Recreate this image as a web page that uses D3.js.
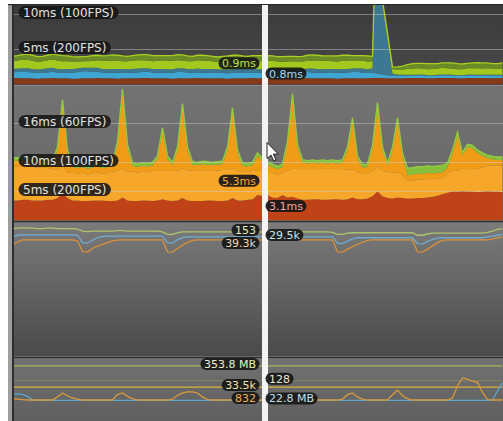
<!DOCTYPE html>
<html>
<head>
<meta charset="utf-8">
<script src="https://cdn.jsdelivr.net/npm/d3@7"></script>
<style>
body { margin: 0; background: #ffffff; }
svg { display: block; }
text { font-family: "DejaVu Sans", Verdana, sans-serif; }
</style>
</head>
<body>
<script>
var frameCount = 99;
var selectedFrame = 50;

// GPU panel, ms per layer (bottom to top)
var gpuBrown = [0.9,0.9,0.85,0.85,0.85,0.8,0.85,0.85,0.9,0.85,
    0.85,0.85,0.8,0.8,0.85,0.85,0.85,0.9,0.85,0.85,
    0.85,0.8,0.85,0.85,0.85,0.85,0.9,0.9,0.85,0.85,
    0.85,0.85,0.8,0.85,0.85,0.85,0.85,0.9,0.85,0.85,
    0.85,0.85,0.85,0.8,0.85,0.85,0.85,0.85,0.9,0.85,
    0.85,0.85,0.85,0.85,0.8,0.8,0.85,0.85,0.85,0.9,
    0.85,0.85,0.85,0.85,0.85,0.8,0.85,0.85,0.85,0.85,
    0.85,0.85,0.9,0.9,0.9,0.85,0.85,0.85,0.85,0.9,
    0.9,0.9,0.9,0.85,0.85,0.9,0.9,0.9,0.9,0.85,
    0.85,0.9,0.9,0.9,0.9,0.9,0.85,0.9,0.9];
var gpuBlue = [0.8,0.85,0.9,0.9,0.85,0.8,0.8,0.85,0.9,0.85,
    0.8,0.8,0.85,0.95,1.0,1.0,0.95,0.9,0.85,0.8,
    0.8,0.85,0.85,0.8,0.8,0.85,0.9,0.9,0.85,0.8,
    0.8,0.8,0.85,0.9,0.9,0.85,0.8,0.8,0.8,0.85,
    0.85,0.8,0.75,0.75,0.8,0.85,0.85,0.8,0.8,0.8,
    0.8,0.85,0.9,0.9,0.85,0.8,0.75,0.75,0.8,0.85,
    0.85,0.8,0.8,0.85,0.85,0.8,0.8,0.85,0.9,0.9,
    0.85,0.8,0.8,0.6,0.5,0.45,0.4,0.4,0.4,0.35,
    0.35,0.4,0.4,0.35,0.35,0.35,0.4,0.4,0.35,0.35,
    0.35,0.4,0.4,0.35,0.35,0.4,0.4,0.35,0.35];
var gpuTeal = [0.5,0.5,0.55,0.55,0.5,0.5,0.55,0.6,0.55,0.5,
    0.5,0.55,0.55,0.5,0.5,0.5,0.55,0.55,0.5,0.5,
    0.55,0.55,0.5,0.5,0.55,0.55,0.5,0.5,0.5,0.55,
    0.55,0.5,0.5,0.55,0.55,0.5,0.5,0.55,0.55,0.5,
    0.5,0.5,0.55,0.55,0.5,0.5,0.5,0.55,0.55,0.5,
    0.5,0.55,0.55,0.5,0.5,0.55,0.55,0.5,0.5,0.5,
    0.55,0.55,0.5,0.5,0.5,0.55,0.55,0.5,0.5,0.55,
    0.55,0.5,0.6,28,9.8,5.2,0.3,0.15,0.1,0.1,
    0.1,0.1,0.1,0.1,0.1,0.1,0.1,0.1,0.1,0.1,
    0.1,0.1,0.1,0.1,0.1,0.1,0.1,0.1,0.1];
var gpuLime = [1.1,1.15,1.2,1.2,1.15,1.1,1.1,1.15,1.2,1.2,
    1.15,1.1,1.05,1.0,0.95,0.95,1.0,1.1,1.15,1.2,
    1.2,1.15,1.1,1.15,1.2,1.2,1.15,1.1,1.1,1.15,
    1.2,1.25,1.2,1.15,1.1,1.1,1.15,1.2,1.2,1.15,
    1.1,1.05,1.1,1.15,1.2,1.2,1.15,1.1,1.1,1.15,
    1.15,1.1,1.05,1.0,1.05,1.1,1.15,1.15,1.1,1.1,
    1.15,1.2,1.2,1.15,1.1,1.1,1.15,1.2,1.15,1.1,
    1.1,1.1,1.0,0.4,0.4,0.4,0.6,0.7,0.75,0.85,
    0.9,0.9,0.85,0.85,0.9,0.9,0.95,0.9,0.9,0.85,
    0.85,0.9,0.9,0.95,0.9,0.9,0.9,0.85,0.9];
var gpuOlive = [0.7,0.7,0.75,0.8,0.8,0.75,0.7,0.7,0.75,0.8,
    0.8,0.75,0.7,0.65,0.65,0.7,0.75,0.7,0.7,0.75,
    0.8,0.8,0.75,0.7,0.7,0.75,0.8,0.85,0.8,0.75,
    0.7,0.7,0.75,0.8,0.8,0.75,0.7,0.7,0.75,0.75,
    0.7,0.7,0.75,0.8,0.8,0.75,0.7,0.7,0.75,0.8,
    0.8,0.75,0.7,0.7,0.75,0.75,0.7,0.7,0.75,0.8,
    0.8,0.75,0.7,0.7,0.75,0.8,0.8,0.75,0.7,0.7,
    0.75,0.8,0.7,0.4,0.4,0.4,0.3,0.4,0.5,0.6,
    0.7,0.7,0.75,0.8,0.75,0.7,0.7,0.75,0.8,0.8,
    0.75,0.7,0.75,0.8,0.8,0.75,0.7,0.75,0.8];
var gpuGridMs = [10, 5];
var gpuGridLabels = ["10ms (100FPS)", "5ms (200FPS)"];

// CPU panel, ms per layer (bottom to top)
var cpuRed = [3.4,3.4,3.5,3.5,3.4,3.4,3.4,3.5,3.5,3.8,
    4.6,3.8,3.4,3.4,3.3,3.3,3.4,3.4,3.4,3.3,
    3.3,3.4,3.9,3.4,3.3,3.3,3.4,3.4,3.3,3.4,
    3.6,3.4,3.3,3.4,3.8,3.4,3.3,3.3,3.3,3.4,
    3.4,3.3,3.3,3.4,3.8,3.4,3.4,3.5,3.6,4.3,
    4.2,4.3,3.9,3.8,4.3,3.9,4.0,3.7,3.5,3.5,
    3.6,3.6,3.5,3.5,3.6,3.6,3.5,3.6,3.9,3.6,
    3.6,3.7,4.1,4.9,4.1,3.8,3.7,3.9,3.8,3.7,
    3.7,3.8,3.8,3.9,4.0,4.2,4.5,4.7,4.9,4.9,
    5.0,4.9,4.9,4.8,4.9,5.0,4.9,4.9,4.8];
var cpuOrange = [5.7,5.8,5.8,5.7,5.7,5.6,5.7,5.4,5.2,4.9,
    4.9,4.3,4.7,4.5,4.8,4.5,4.6,4.8,4.5,4.8,
    5.0,5.0,5.0,4.9,5.0,4.8,4.9,4.8,5.1,5.0,
    5.0,5.0,5.1,5.1,5.1,5.1,5.2,5.1,5.3,5.1,
    5.0,5.2,5.3,5.2,5.1,5.0,4.9,4.7,4.8,4.2,
    4.4,4.2,4.2,3.9,3.8,4.5,4.8,5.0,5.3,5.2,
    5.2,5.1,5.3,5.2,5.2,5.1,5.3,5.0,4.8,4.6,
    4.4,4.4,4.3,4.3,4.3,4.5,4.4,4.2,4.0,3.0,
    3.1,3.2,3.1,3.2,3.0,2.9,2.7,3.3,3.5,3.6,
    3.8,3.8,3.8,4.0,4.1,4.3,4.5,4.4,4.5];
var cpuDark = [1,1,1,1,1,1,1,1,1,3.3,
    10.6,3.4,1,1,1,1,1,1,1,1,
    1,4.6,13.0,4.2,1,1,1,1,1,2.1,
    6.7,2.1,1,3.5,10.5,3.5,1,1,1,1,
    1,1,1,3.4,9.8,3.1,1,1,1,2.5,
    1.5,1,1,1,1,4.6,12.3,3.8,1,1,
    1,1,1,1,1,1,1,3.4,8.3,2.3,
    1,1,3.9,10.4,3.6,1,3.9,8.9,3.2,1,
    1,1,1,1,1,1,1,1,3.1,6.0,
    2.2,3.8,3.6,2.7,2.0,1.3,1,1,1];
var cpuGreen = [0.5,0.5,0.5,0.5,0.5,0.5,0.5,0.5,0.5,0.5,
    0.5,0.5,0.5,0.5,0.5,0.5,0.5,0.5,0.5,0.5,
    0.5,0.5,0.5,0.5,0.5,0.5,0.5,0.5,0.5,0.5,
    0.5,0.5,0.5,0.5,0.5,0.5,0.5,0.5,0.5,0.5,
    0.5,0.5,0.5,0.5,0.5,0.5,0.5,0.5,0.5,0.5,
    0.5,0.5,0.5,0.5,0.5,0.5,0.5,0.5,0.5,0.5,
    0.5,0.5,0.5,0.5,0.5,0.5,0.5,0.5,0.5,0.5,
    0.5,0.5,0.5,0.5,0.5,0.5,0.5,0.5,0.5,1.2,
    1.2,1.2,1.2,1.2,1.2,1.2,1.2,0.8,0.5,0.5,
    0.5,0.5,0.5,0.5,0.5,0.5,0.5,0.5,0.5];
var cpuGridMs = [16.67, 10, 5];
var cpuGridLabels = ["16ms (60FPS)", "10ms (100FPS)", "5ms (200FPS)"];

// Rendering panel
var batches = [155,155.5,156,156,155.5,155,155,155.5,155.5,155,
    155,155,155,154.5,152,151.5,152,152,152,152,
    152,152.5,152.5,152,152,152,152,152,152,152,
    151,148,148,150,151,151,151,151,151,151,
    151,151,151,151,151,151,151,151,151,151,
    151,151,151,151,151,151,151,151,151,151,
    151,151,151,151,150.5,148,148,149.5,150,150,
    150,150,150,150,150,150,150,150,150,150,
    150,147,147,148.5,149.5,149.5,149.5,149.5,149.5,149.5,
    149.5,149.5,149.5,149.5,149.5,150.5,152,154,155];
var trisK = [29.2,29.4,29.5,29.5,29.5,29.5,29.5,29.5,29.5,29.5,
    29.5,29.5,29.5,29.4,27.6,27.5,28.2,28.8,29.1,29.2,
    29.2,29.2,29.2,29.2,29.2,29.2,29.2,29.2,29.2,29.2,
    29.2,27.6,27.5,28.3,28.8,29.0,29.0,29.0,29.0,29.0,
    29.0,29.0,29.0,29.0,29.0,29.0,29.0,29.0,29.0,29.0,
    29.0,29.0,29.0,29.0,29.0,29.0,29.0,29.0,29.0,29.0,
    29.0,29.0,29.0,29.0,29.0,27.5,27.4,28.0,28.5,28.8,
    28.8,28.8,28.8,28.8,28.8,28.8,28.8,28.8,28.8,28.8,
    28.8,27.4,27.3,27.9,28.4,28.7,28.8,28.8,28.8,28.8,
    28.8,28.8,28.8,28.8,28.8,29.0,29.2,29.4,29.6];
var vertsK = [37.6,38.6,39.3,39.3,39.3,39.3,39.3,39.3,39.3,39.3,
    39.3,39.3,39.3,39.0,35.4,35.2,36.5,37.2,37.8,38.4,
    39.0,39.2,39.3,39.3,39.3,39.3,39.3,39.3,39.3,39.3,
    39.3,35.3,35.2,36.4,37.5,38.5,39.1,39.3,39.3,39.3,
    39.3,39.3,39.3,39.3,39.3,39.3,39.3,39.3,39.3,39.3,
    39.3,39.3,39.3,39.3,39.3,39.3,39.3,39.3,39.3,39.3,
    39.3,39.3,39.3,39.3,39.3,35.3,35.2,36.2,37.0,37.8,
    38.5,39.1,39.3,39.3,39.3,39.3,39.3,39.3,39.3,39.3,
    39.3,35.3,35.2,36.2,37.3,38.4,39.1,39.3,39.3,39.3,
    39.3,39.3,39.3,39.3,39.3,39.3,39.6,40.0,40.3];
var renderMax = [163, 32.6, 45.3];
var renderLabels = ["153", "29.5k", "39.3k"];

// Memory panel
var totalMemFrames = [0, 98];
var totalMemMB = [353.8, 353.8];
var textureFrames = [0, 98];
var textureCount = [128, 128];
var objectFrames = [0, 98];
var objectCountK = [33.5, 33.5];
var gcAlloc = [845,840,835,832,832,832,832,832,832,860,
    895,870,850,840,832,832,832,832,832,832,
    832,880,895,865,845,832,832,832,832,832,
    832,832,840,875,895,905,905,895,860,835,
    832,832,832,832,832,832,832,832,832,832,
    832,832,832,832,832,832,832,832,832,832,
    832,832,832,832,832,832,840,880,895,860,
    840,832,832,832,832,832,880,920,870,845,
    832,832,832,832,832,832,832,832,850,960,
    1030,1020,1000,990,900,835,832,832,832];
var usedMemMB = [24.2,24.3,24.2,23.7,22.8,22.7,22.7,22.7,22.7,22.7,
    22.7,22.7,22.7,22.7,22.7,22.7,22.7,22.7,22.7,22.7,
    22.7,22.7,22.7,22.7,22.7,22.7,22.7,22.7,22.7,22.7,
    22.7,22.7,22.7,22.7,22.7,22.7,22.7,22.7,22.7,22.7,
    22.7,22.7,22.7,22.7,22.7,22.7,22.7,22.7,22.7,22.7,
    22.7,22.7,22.7,22.7,22.7,22.7,22.7,22.7,22.7,22.7,
    22.7,22.7,22.7,22.7,22.7,22.7,22.7,22.7,22.7,22.7,
    22.7,22.7,22.7,22.7,22.7,22.7,22.7,22.7,22.7,22.7,
    22.7,22.7,22.7,22.7,22.7,22.7,22.7,22.7,22.7,22.7,
    22.7,22.7,22.7,22.7,22.7,22.7,22.8,25.0,27.0];
var memMax = [376, 154, 42.7, 1208, 33.1];
var memLabels = ["353.8 MB", "128", "33.5k", "832", "22.8 MB"];

var gpuLabels = ["0.9ms", "0.8ms"];
var cpuLabels = ["5.3ms", "3.1ms"];

var W = 503, H = 421;
var plotLeft = 14, plotRight = 503;
var frames = d3.range(frameCount);

var x = d3.scaleLinear().domain([0, frameCount - 1]).range([12.5, 502.5]);
var yGpu = d3.scaleLinear().domain([0, 10]).range([84.3, 14.3]);
var yCpu = d3.scaleLinear().domain([0, 10]).range([220.3, 161.7]);

var svg = d3.select("body").append("svg").attr("width", W).attr("height", H);
var defs = svg.append("defs");

function addGradient(id, c0, c1) {
    var g = defs.append("linearGradient").attr("id", id)
        .attr("x1", 0).attr("y1", 0).attr("x2", 0).attr("y2", 1);
    g.append("stop").attr("offset", "0%").attr("stop-color", c0);
    g.append("stop").attr("offset", "100%").attr("stop-color", c1);
}

//面板背景
var panels = [
    {id: "gpu", top: 5, bottom: 85, c0: "#3b3b3b", c1: "#494949"},
    {id: "cpu", top: 85, bottom: 221, c0: "#737373", c1: "#666666"},
    {id: "render", top: 222, bottom: 356.5, c0: "#7b7b7b", c1: "#4a4a4a"},
    {id: "mem", top: 358, bottom: 421, c0: "#717171", c1: "#5f5f5f"}
];
panels.forEach(function (p) {
    addGradient("bg-" + p.id, p.c0, p.c1);
    defs.append("clipPath").attr("id", "clip-" + p.id).append("rect")
        .attr("x", plotLeft).attr("y", p.top)
        .attr("width", plotRight - plotLeft).attr("height", p.bottom - p.top);
    svg.append("rect").attr("x", plotLeft).attr("y", p.top)
        .attr("width", plotRight - plotLeft).attr("height", p.bottom - p.top)
        .attr("fill", "url(#bg-" + p.id + ")");
});

// frame borders
svg.append("rect").attr("x", 8).attr("y", 4).attr("width", 4).attr("height", H).attr("fill", "#9e9e9e");
svg.append("rect").attr("x", 12).attr("y", 4).attr("width", 2).attr("height", H).attr("fill", "#2e2e2e");
svg.append("rect").attr("x", 8).attr("y", 4).attr("width", W).attr("height", 1.2).attr("fill", "#2a2a2a");
svg.append("rect").attr("x", plotLeft).attr("y", 85).attr("width", W).attr("height", 1).attr("fill", "#8a8a8a");
svg.append("rect").attr("x", plotLeft).attr("y", 221).attr("width", W).attr("height", 1.2).attr("fill", "#2c2c2c");
svg.append("rect").attr("x", plotLeft).attr("y", 356.5).attr("width", W).attr("height", 1.6).attr("fill", "#2c2c2c");

function stackedPanel(id, keys, arrays, colors, y, topColor) {
    var rows = frames.map(function (i) {
        var r = {};
        keys.forEach(function (k, j) { r[k] = arrays[j][i]; });
        return r;
    });
    var series = d3.stack().keys(keys)(rows);
    var g = svg.append("g").attr("clip-path", "url(#clip-" + id + ")");
    var area = d3.area()
        .x(function (d, i) { return x(i); })
        .y0(function (d) { return y(d[0]); })
        .y1(function (d) { return y(d[1]); });
    g.selectAll("path.layer").data(series).enter().append("path")
        .attr("class", "layer")
        .attr("d", area)
        .attr("fill", function (d, i) { return colors[i]; });
    var topLine = d3.line()
        .x(function (d, i) { return x(i); })
        .y(function (d) { return y(d[1]); });
    g.append("path").attr("d", topLine(series[series.length - 1]))
        .attr("fill", "none").attr("stroke", topColor).attr("stroke-width", 1.3);
    return series;
}

var gpuSeries = stackedPanel("gpu", ["brown", "blue", "teal", "lime", "olive"],
    [gpuBrown, gpuBlue, gpuTeal, gpuLime, gpuOlive],
    ["#84391b", "#3fa5d2", "#3c7891", "#a3c91f", "#6b8b27"], yGpu, "#a8cf22");
var cpuSeries = stackedPanel("cpu", ["red", "orange", "dark", "green"],
    [cpuRed, cpuOrange, cpuDark, cpuGreen],
    ["#bf4316", "#f6a72a", "#f09c16", "#86bf3a"], yCpu, "#94cc40");

// grid lines with pill labels
function gridLines(ms, labels, y) {
    ms.forEach(function (v, i) {
        var ly = Math.round(y(v)) + 0.5;
        svg.append("line").attr("x1", plotLeft).attr("x2", plotRight)
            .attr("y1", ly).attr("y2", ly)
            .attr("stroke", "#d0d0d0").attr("stroke-opacity", 0.45);
        var t = svg.append("text").attr("font-size", 12).attr("fill", "#e2e2e2")
            .text(labels[i]);
        var w = t.node().getComputedTextLength();
        svg.insert("rect", "text:last-of-type")
            .attr("x", 18.5).attr("y", ly - 8.5).attr("width", w + 9).attr("height", 13)
            .attr("rx", 6.5).attr("fill", "#161616").attr("fill-opacity", 0.88);
        t.raise().attr("x", 23).attr("y", ly + 2.2);
    });
}
gridLines(gpuGridMs, gpuGridLabels, yGpu);
gridLines(cpuGridMs, cpuGridLabels, yCpu);

// line graphs
function drawLine(clipId, values, yScale, color, width, opacity, frameIdx) {
    var line = d3.line()
        .x(function (d, i) { return x(frameIdx ? frameIdx[i] : i); })
        .y(function (d) { return yScale(d); });
    svg.append("path").attr("clip-path", "url(#clip-" + clipId + ")")
        .attr("d", line(values)).attr("fill", "none")
        .attr("stroke", color).attr("stroke-width", width)
        .attr("stroke-opacity", opacity);
}

var yBatches = d3.scaleLinear().domain([0, renderMax[0]]).range([357, 222]);
var yTris = d3.scaleLinear().domain([0, renderMax[1]]).range([357, 222]);
var yVerts = d3.scaleLinear().domain([0, renderMax[2]]).range([357, 222]);
drawLine("render", vertsK, yVerts, "#d9913a", 1.3, 1);
drawLine("render", trisK, yTris, "#70acd0", 1.3, 1);
drawLine("render", batches, yBatches, "#adc46e", 1.3, 1);

var memScales = memMax.map(function (m) {
    return d3.scaleLinear().domain([0, m]).range([493, 358]);
});
drawLine("mem", totalMemMB, memScales[0], "#a9b65a", 1.3, 1, totalMemFrames);
drawLine("mem", textureCount, memScales[1], "#8e8e62", 1, 0.8, textureFrames);
drawLine("mem", objectCountK, memScales[2], "#d7b33c", 1.4, 1, objectFrames);
drawLine("mem", usedMemMB, memScales[4], "#5aa6cc", 1.3, 1);
drawLine("mem", gcAlloc, memScales[3], "#d99a3c", 1.3, 1);

// selected frame
var cursorLeft = x(selectedFrame) - 0.5;
var cursorRight = x(selectedFrame + 1) + 0.5;
svg.append("rect").attr("x", cursorLeft).attr("y", 5)
    .attr("width", cursorRight - cursorLeft).attr("height", H - 5)
    .attr("fill", "#f3f3f3");

// value labels next to the cursor
function placeLabels(list, side) {
    list.sort(function (a, b) { return a.y - b.y; });
    for (var k = 1; k < list.length; k++) {
        if (list[k].y < list[k - 1].y + 13) list[k].y = list[k - 1].y + 13;
    }
    list.forEach(function (l) {
        var t = svg.append("text").attr("font-size", 11).attr("fill", l.color).text(l.text);
        var w = t.node().getComputedTextLength();
        var bw = w + 7;
        var bx = side == "left" ? cursorLeft - 2.5 - bw : cursorRight - 2.5;
        svg.insert("rect", "text:last-of-type")
            .attr("x", bx).attr("y", l.y - 6).attr("width", bw).attr("height", 12)
            .attr("rx", 6).attr("fill", "#151515").attr("fill-opacity", 0.9);
        t.raise().attr("x", bx + 3.5).attr("y", l.y + 4);
    });
}
function layerMid(series, idx, y) {
    var d = series[idx][selectedFrame];
    return y((d[0] + d[1]) / 2) - 2;
}
var f = selectedFrame;
placeLabels([
    {text: gpuLabels[0], color: "#b8e04a", y: layerMid(gpuSeries, 3, yGpu)},
    {text: cpuLabels[0], color: "#f5a83a", y: layerMid(cpuSeries, 1, yCpu)},
    {text: renderLabels[0], color: "#e2edb8", y: yBatches(batches[f]) - 2},
    {text: renderLabels[2], color: "#f2d6ac", y: yVerts(vertsK[f]) - 2},
    {text: memLabels[0], color: "#eeeec8", y: memScales[0](totalMemMB[0]) - 2},
    {text: memLabels[2], color: "#f0e2a8", y: memScales[2](objectCountK[0]) - 2},
    {text: memLabels[3], color: "#f0b050", y: memScales[3](gcAlloc[f]) - 2}
], "left");
placeLabels([
    {text: gpuLabels[1], color: "#a8d8f0", y: layerMid(gpuSeries, 1, yGpu)},
    {text: cpuLabels[1], color: "#f0aca2", y: layerMid(cpuSeries, 0, yCpu)},
    {text: renderLabels[1], color: "#c8e4f4", y: yTris(trisK[f]) - 2},
    {text: memLabels[1], color: "#e8e8d8", y: memScales[1](textureCount[0]) - 2},
    {text: memLabels[4], color: "#c0e0f0", y: memScales[4](usedMemMB[f]) - 2}
], "right");

// mouse pointer
svg.append("path")
    .attr("d", "M0,0 L0,16 L4,12.5 L6.8,18.5 L9,17.5 L6.3,11.6 L11.3,11.6 Z")
    .attr("transform", "translate(267,142.5)")
    .attr("fill", "#ffffff").attr("stroke", "#222222").attr("stroke-width", 1)
    .attr("stroke-linejoin", "round");
</script>
</body>
</html>
